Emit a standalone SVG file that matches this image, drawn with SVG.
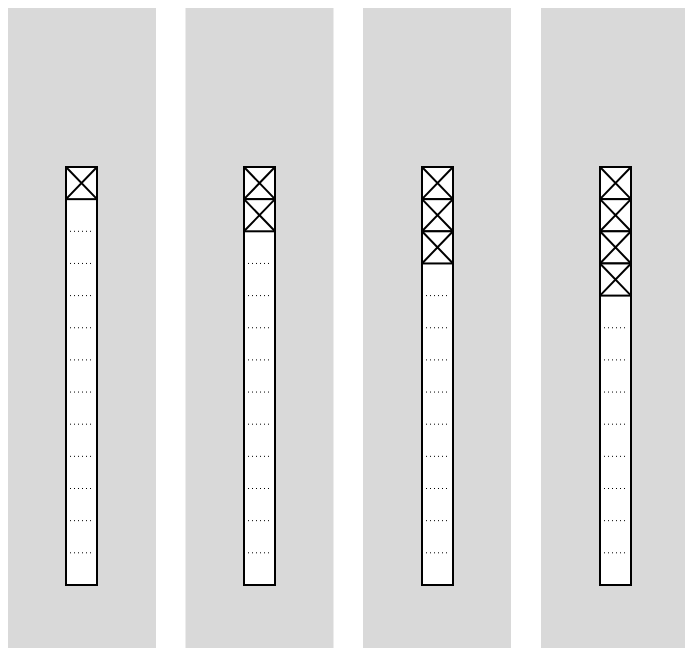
<svg xmlns="http://www.w3.org/2000/svg" width="685" height="648" viewBox="0 0 685 648">
<defs>
<style>
.panel{fill:#d9d9d9;stroke:none}
.col{fill:#fff;stroke:#000;stroke-width:2}
.x{stroke:#000;stroke-width:2;fill:none}
.dot{stroke:#000;stroke-width:1;stroke-dasharray:1 3;fill:none}
</style>
<g id="cellX"><rect x="0" y="0" width="31" height="32.15" class="col"/><path class="x" d="M0,0 L31,32.15 M31,0 L0,32.15"/></g>
<g id="dots"><path class="dot" d="M70,0.5 H94"/></g>
</defs>
<g id="panel1">
<rect class="panel" x="8" y="8" width="148" height="640"/>
<rect class="col" x="66" y="167" width="31" height="418"/>
<g transform="translate(66,167)"><use href="#cellX"/></g>
<g transform="translate(0,-0.5)">
<use href="#dots" y="231.3"/><use href="#dots" y="263.45"/><use href="#dots" y="295.6"/><use href="#dots" y="327.75"/><use href="#dots" y="359.9"/><use href="#dots" y="392.05"/><use href="#dots" y="424.2"/><use href="#dots" y="456.35"/><use href="#dots" y="488.5"/><use href="#dots" y="520.65"/><use href="#dots" y="552.8"/>
</g>
</g>
<g id="panel2">
<rect class="panel" x="185.5" y="8" width="148" height="640"/>
<rect class="col" x="244" y="167" width="31" height="418"/>
<g transform="translate(244,167)"><use href="#cellX"/></g>
<g transform="translate(244,199.15)"><use href="#cellX"/></g>
<g transform="translate(178,-0.5)">
<use href="#dots" y="263.45"/><use href="#dots" y="295.6"/><use href="#dots" y="327.75"/><use href="#dots" y="359.9"/><use href="#dots" y="392.05"/><use href="#dots" y="424.2"/><use href="#dots" y="456.35"/><use href="#dots" y="488.5"/><use href="#dots" y="520.65"/><use href="#dots" y="552.8"/>
</g>
</g>
<g id="panel3">
<rect class="panel" x="363" y="8" width="148" height="640"/>
<rect class="col" x="422" y="167" width="31" height="418"/>
<g transform="translate(422,167)"><use href="#cellX"/></g>
<g transform="translate(422,199.15)"><use href="#cellX"/></g>
<g transform="translate(422,231.3)"><use href="#cellX"/></g>
<g transform="translate(356,-0.5)">
<use href="#dots" y="295.6"/><use href="#dots" y="327.75"/><use href="#dots" y="359.9"/><use href="#dots" y="392.05"/><use href="#dots" y="424.2"/><use href="#dots" y="456.35"/><use href="#dots" y="488.5"/><use href="#dots" y="520.65"/><use href="#dots" y="552.8"/>
</g>
</g>
<g id="panel4">
<rect class="panel" x="541" y="8" width="148" height="640"/>
<rect class="col" x="600" y="167" width="31" height="418"/>
<g transform="translate(600,167)"><use href="#cellX"/></g>
<g transform="translate(600,199.15)"><use href="#cellX"/></g>
<g transform="translate(600,231.3)"><use href="#cellX"/></g>
<g transform="translate(600,263.45)"><use href="#cellX"/></g>
<g transform="translate(534,-0.5)">
<use href="#dots" y="327.75"/><use href="#dots" y="359.9"/><use href="#dots" y="392.05"/><use href="#dots" y="424.2"/><use href="#dots" y="456.35"/><use href="#dots" y="488.5"/><use href="#dots" y="520.65"/><use href="#dots" y="552.8"/>
</g>
</g>
<g id="connectors"></g>
</svg>
